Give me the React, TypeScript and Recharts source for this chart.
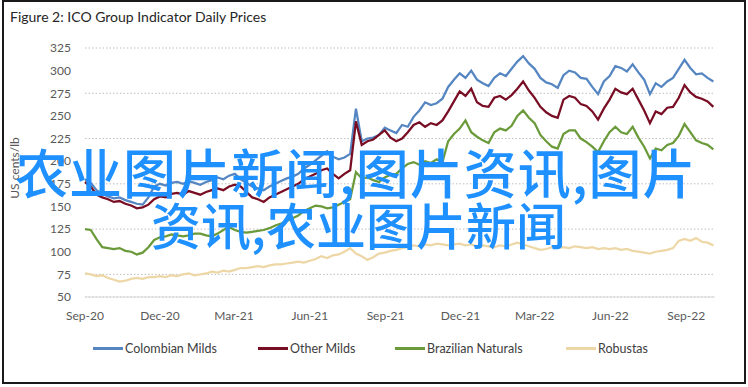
import { LineChart, Line, XAxis, YAxis, CartesianGrid } from 'recharts'

// days since 1 Sep 2020 for each quarter label
const QUARTER_DAYS = [0, 91, 181, 273, 365, 456, 546, 638, 730]
const QUARTER_LABELS = ['Sep-20', 'Dec-20', 'Mar-21', 'Jun-21', 'Sep-21', 'Dec-21', 'Mar-22', 'Jun-22', 'Sep-22']
const Y_TICKS = [50, 75, 100, 125, 150, 175, 200, 225, 250, 275, 300, 325]

// weekly readings, US cents/lb
const COLOMBIAN_MILDS = [
  180, 176, 168, 164, 161, 159, 160, 157, 155, 153,
  152, 160, 172, 175, 173, 176, 177, 175, 178, 176,
  174, 177, 179, 182, 180, 184, 186, 180, 176, 172,
  170, 168, 172, 175, 178, 181, 183, 186, 192, 196,
  201, 206, 211, 205, 202, 204, 208, 258, 222, 225,
  226, 229, 237, 234, 231, 240, 238, 249, 256, 265,
  262, 264, 269, 282, 290, 297, 292, 300, 290, 286,
  283, 292, 297, 294, 302, 310, 316, 308, 302, 292,
  287, 285, 281, 295, 300, 298, 292, 291, 282, 274,
  288, 294, 305, 303, 299, 307, 298, 290, 274, 286,
  282, 288, 292, 302, 312, 303, 296, 297, 292, 288,
]
const OTHER_MILDS = [
  177, 172, 163, 160, 158, 155, 156, 153, 151, 148,
  149, 152, 158, 161, 160, 164, 165, 163, 167, 165,
  163, 166, 168, 170, 168, 172, 174, 172, 166, 160,
  158, 155, 160, 163, 166, 169, 172, 175, 180, 183,
  186, 190, 192, 186, 181, 186, 190, 244, 218, 222,
  224, 229, 234, 226, 222, 225, 232, 240, 243, 238,
  242, 240, 245, 255, 266, 277, 272, 280, 265, 261,
  260, 270, 272, 268, 273, 280, 288, 278, 270, 260,
  254, 250, 248, 268, 272, 270, 263, 261, 255, 246,
  258, 268, 280, 276, 274, 280, 268, 256, 242, 255,
  252, 259, 260, 270, 284, 276, 271, 269, 266, 260,
]
const BRAZILIAN_NATURALS = [
  125, 124, 114, 105, 104, 103, 104, 101, 100, 97,
  99, 105, 113, 116, 117, 119, 118, 117, 118, 120,
  120, 118, 117, 120, 124, 127, 124, 122, 121, 122,
  123, 124, 126, 129, 131, 134, 137, 140, 145, 148,
  151, 150, 148, 149, 152, 155, 158, 188, 181, 182,
  179, 177, 182, 185, 186, 192, 197, 199, 196, 200,
  198, 202, 199, 222, 230, 236, 245, 232, 227, 223,
  220, 232, 236, 234, 239, 250, 256, 248, 242, 229,
  222, 216, 214, 230, 234, 234, 225, 221, 216, 210,
  222, 232, 238, 232, 230, 238, 226, 216, 203, 214,
  212, 218, 220, 228, 241, 232, 223, 220, 218, 213,
]
const ROBUSTAS = [
  76, 75, 73, 74, 71, 69, 67, 68, 70, 71,
  70, 72, 72, 73, 72, 74, 73, 75, 76, 74,
  75, 76, 78, 77, 79, 78, 80, 82, 82, 83,
  84, 83, 85, 86, 86, 87, 88, 89, 88, 90,
  92, 95, 93, 96, 97, 100, 104, 98, 95, 91,
  94, 98, 99, 101, 102, 104, 105, 107, 106, 108,
  107, 109, 108, 107, 108, 109, 107, 108, 106, 107,
  106, 105, 107, 106, 108, 110, 108, 106, 104, 102,
  103, 105, 104, 105, 104, 106, 105, 104, 105, 103,
  104, 103, 104, 102, 103, 101, 100, 99, 98, 100,
  101, 102, 104, 112, 114, 112, 115, 111, 110, 107,
]

const SERIES = [
  { key: 'colombian', name: 'Colombian Milds', color: '#5586c2', values: COLOMBIAN_MILDS },
  { key: 'other', name: 'Other Milds', color: '#780d24', values: OTHER_MILDS },
  { key: 'brazilian', name: 'Brazilian Naturals', color: '#6b9a3a', values: BRAZILIAN_NATURALS },
  { key: 'robustas', name: 'Robustas', color: '#edd7a6', values: ROBUSTAS },
]

const DATA = COLOMBIAN_MILDS.map((_, i) => {
  const row: Record<string, number> = { day: i * 7 }
  SERIES.forEach(s => { row[s.key] = s.values[i] })
  return row
})

const LEGEND_LEFT = [93, 258, 395, 566]

const tickStyle = { fill: '#595959', fontSize: 12, fontFamily: 'Lato, sans-serif' }

const markStyle = {
  position: 'absolute' as const,
  lineHeight: 1,
  color: '#1e90ff',
  fontFamily: '"Noto Sans CJK SC", sans-serif',
  fontWeight: 500,
  whiteSpace: 'nowrap' as const,
}

export default function App() {
  return (
    <div style={{ position: 'absolute', left: 0, top: 0, width: 748, height: 387, background: '#fff', fontFamily: 'Lato, sans-serif', overflow: 'hidden' }}>
      <div style={{ position: 'absolute', left: 10, top: 8, fontSize: 14, color: '#262626' }}>
        Figure 2: ICO Group Indicator Daily Prices
      </div>

      <LineChart width={748} height={387} data={DATA} margin={{ top: 48, right: 33, bottom: 60, left: 40 }}>
        <CartesianGrid vertical={false} stroke="#bfbfbf" strokeDasharray="1.5 2" />
        <XAxis
          dataKey="day"
          type="number"
          domain={[0, 765]}
          ticks={QUARTER_DAYS}
          tickFormatter={(v: number) => QUARTER_LABELS[QUARTER_DAYS.indexOf(v)]}
          tick={tickStyle}
          tickLine={false}
          tickMargin={8}
          height={30}
          axisLine={{ stroke: '#d9d9d9' }}
        />
        <YAxis
          domain={[50, 325]}
          ticks={Y_TICKS}
          tick={tickStyle}
          tickLine={false}
          tickMargin={8}
          axisLine={false}
          width={45}
        />
        {SERIES.map(s => (
          <Line key={s.key} dataKey={s.key} name={s.name} stroke={s.color} strokeWidth={2.25} dot={false} isAnimationActive={false} />
        ))}
      </LineChart>

      <div style={{ position: 'absolute', left: 14, top: 168, transform: 'translate(-50%, -50%) rotate(-90deg)', fontSize: 12, color: '#595959', whiteSpace: 'nowrap' }}>
        US cents/lb
      </div>

      {SERIES.map((s, i) => (
        <div key={s.key} style={{ position: 'absolute', left: LEGEND_LEFT[i], top: 340, height: 16, display: 'flex', alignItems: 'center', fontSize: 12.5, color: '#404040', whiteSpace: 'nowrap' }}>
          <span style={{ display: 'inline-block', width: 30, height: 3, background: s.color, marginRight: 2 }} />
          {s.name}
        </div>
      ))}

      <div style={{ ...markStyle, left: 15, top: 145, fontSize: 53, letterSpacing: 1 }}>
        农业图片新闻,图片资讯,图片
      </div>
      <div style={{ ...markStyle, left: 151, top: 198, fontSize: 50 }}>
        资讯,农业图片新闻
      </div>

      <div style={{ position: 'absolute', left: 2, top: 0, width: 744, height: 384, border: '2px solid #1a1a1a', boxSizing: 'border-box', pointerEvents: 'none' }} />
    </div>
  )
}
